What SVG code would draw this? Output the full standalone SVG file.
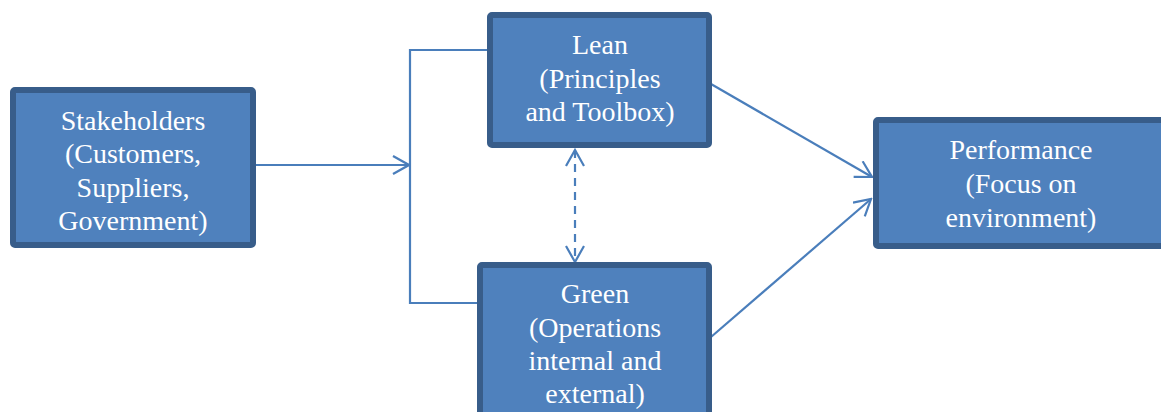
<svg xmlns="http://www.w3.org/2000/svg" width="1161" height="412" viewBox="0 0 1161 412">
  <defs>
    <marker id="open" viewBox="0 0 20 20" refX="18" refY="10" markerWidth="20" markerHeight="20" markerUnits="userSpaceOnUse" orient="auto-start-reverse">
      <path d="M2,1 L18,10 L2,19" fill="none" stroke="#4a7ebb" stroke-width="2.2"/>
    </marker>
  </defs>
  <style>
    .box { fill: #4f81bd; stroke: #385d8a; stroke-width: 6; }
    .lbl { fill: #ffffff; font-size: 28px; text-anchor: middle; }
    .wire { fill: none; stroke: #4a7ebb; stroke-width: 2.2; }
    .dash { stroke-dasharray: 8 6; }
  </style>
  <rect width="1161" height="412" fill="#ffffff"/>

  <g id="connectors">
    <path class="wire" d="M256,165 L409,165" marker-end="url(#open)"/>
    <path class="wire" d="M487,50 L410,50 L410,303 L477,303"/>
    <path class="wire dash" d="M575,150 L575,262" marker-start="url(#open)" marker-end="url(#open)"/>
    <path class="wire" d="M711,84 L872,177" marker-end="url(#open)"/>
    <path class="wire" d="M711,337 L871,199" marker-end="url(#open)"/>
  </g>

  <g font-family="Liberation Serif, DejaVu Serif, serif">
    <g id="stakeholders">
      <rect class="box" x="13" y="90" width="240" height="155" rx="2"/>
      <text class="lbl" x="133" y="130">Stakeholders</text>
      <text class="lbl" x="133" y="163">(Customers,</text>
      <text class="lbl" x="133" y="197">Suppliers,</text>
      <text class="lbl" x="133" y="230">Government)</text>
    </g>

    <g id="lean">
      <rect class="box" x="490" y="15" width="219" height="130" rx="2"/>
      <text class="lbl" x="600" y="54">Lean</text>
      <text class="lbl" x="600" y="88">(Principles</text>
      <text class="lbl" x="600" y="121">and Toolbox)</text>
    </g>

    <g id="green">
      <rect class="box" x="480" y="265" width="229" height="165" rx="2"/>
      <text class="lbl" x="595" y="303">Green</text>
      <text class="lbl" x="595" y="337">(Operations</text>
      <text class="lbl" x="595" y="370">internal and</text>
      <text class="lbl" x="595" y="403">external)</text>
    </g>

    <g id="performance">
      <rect class="box" x="876" y="120" width="300" height="126" rx="2"/>
      <text class="lbl" x="1021" y="159">Performance</text>
      <text class="lbl" x="1021" y="193">(Focus on</text>
      <text class="lbl" x="1021" y="227">environment)</text>
    </g>
  </g>
</svg>
